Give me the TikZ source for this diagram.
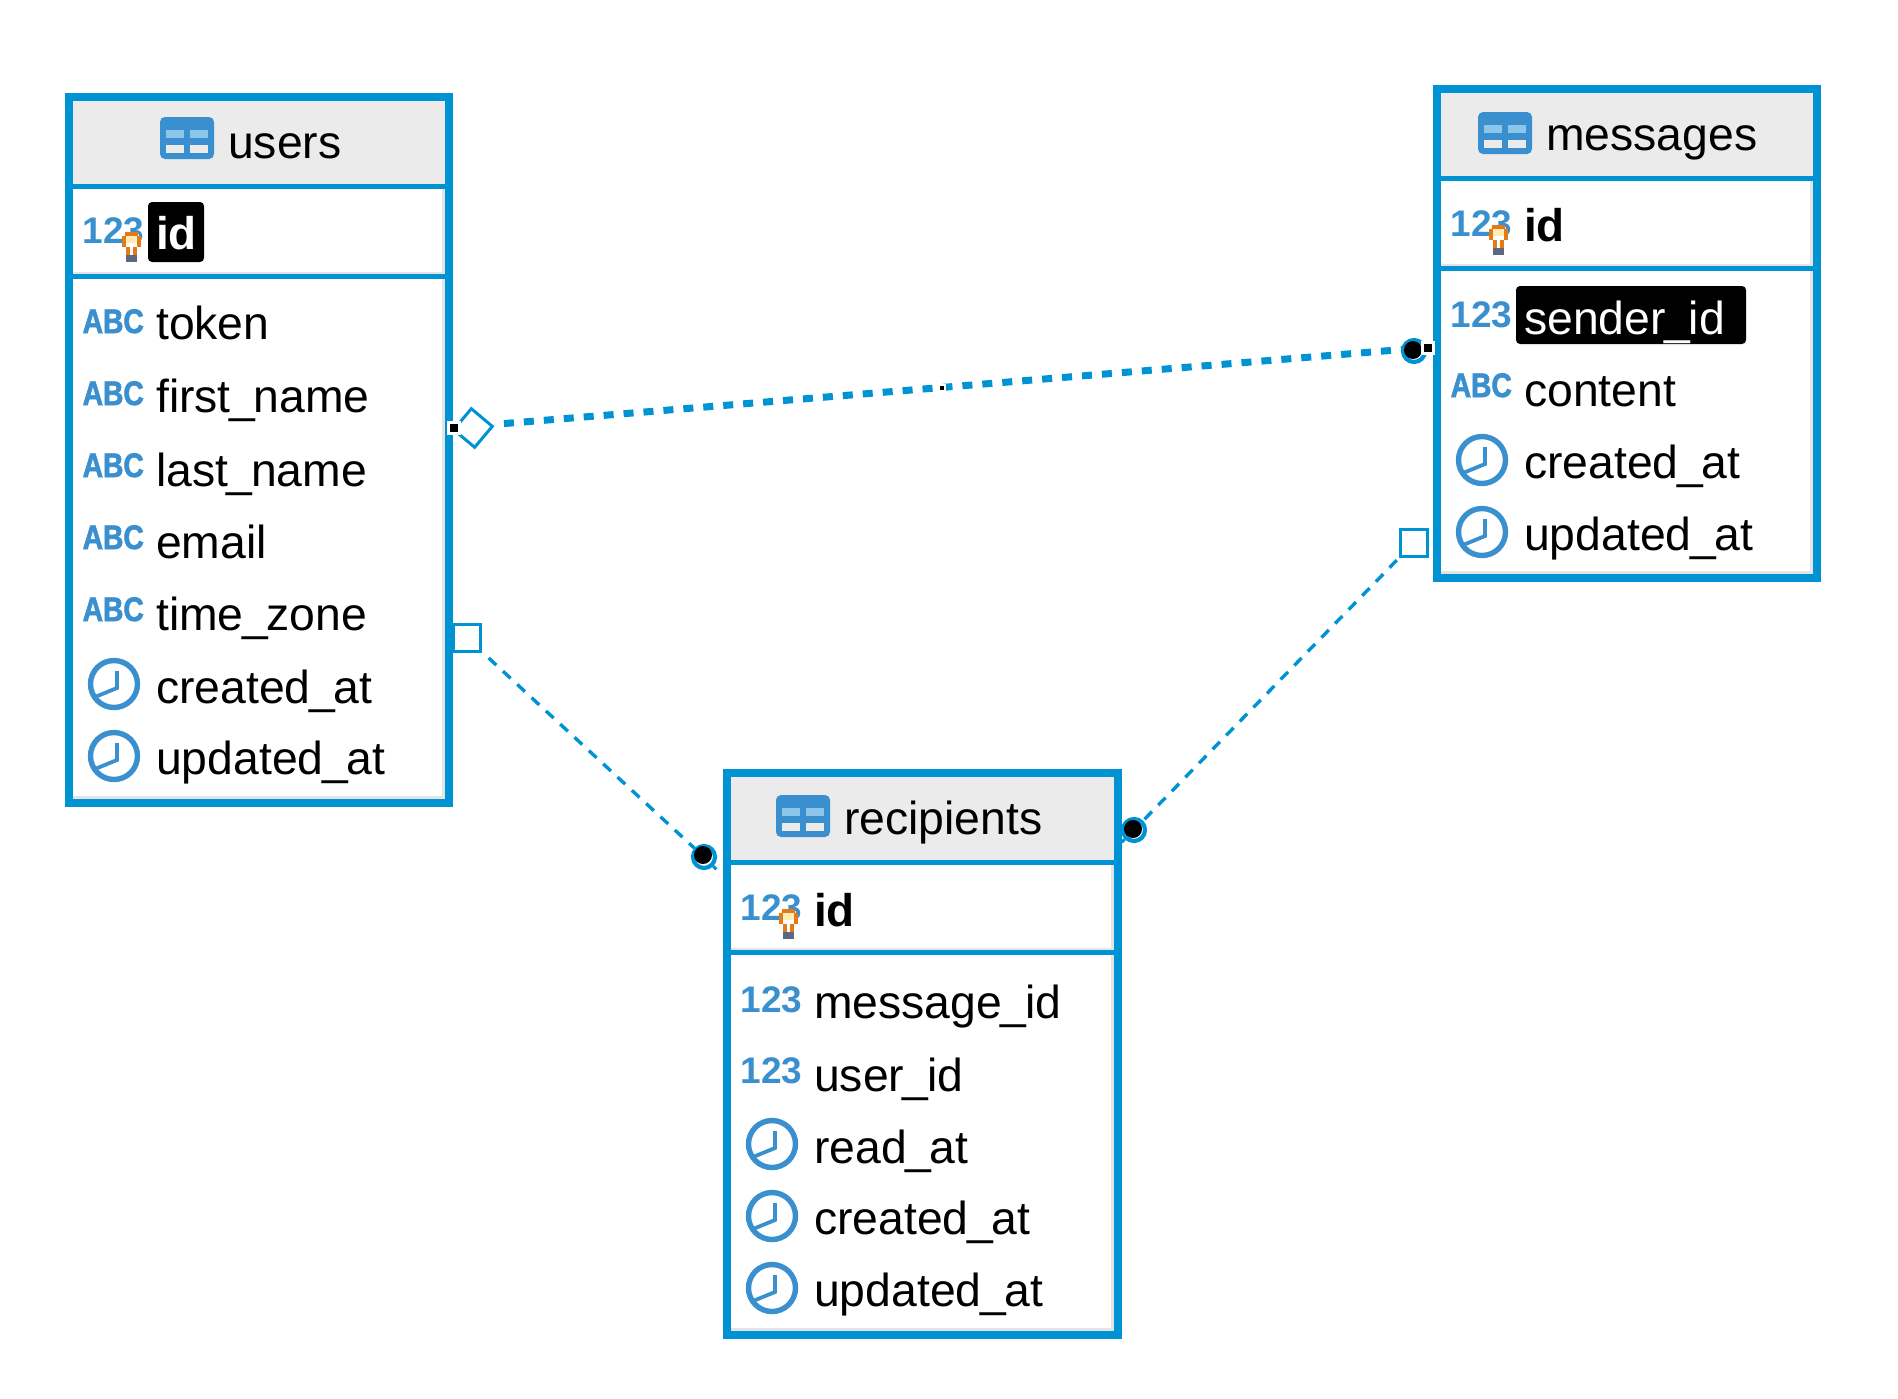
\documentclass[tikz,border=0pt]{standalone}
\usepackage{fontspec}
\usetikzlibrary{shapes.geometric}
\setmainfont{Liberation Sans}
\newfontfamily\abcfont[FakeStretch=0.83,FakeBold=2]{Liberation Sans Bold}
\definecolor{erdblue}{RGB}{0,147,211}
\definecolor{iconblue}{RGB}{58,144,207}
\definecolor{iconlight}{RGB}{140,198,235}
\definecolor{headgray}{RGB}{235,235,235}
\definecolor{edgegray}{RGB}{228,228,228}
\definecolor{keyorange}{RGB}{226,122,24}
\definecolor{keypale}{RGB}{255,236,178}
\definecolor{keygrey}{RGB}{90,104,128}
\tikzset{
  tablebox/.style={draw=erdblue,line width=8pt,fill=white,inner sep=0pt,rectangle},
  fieldlabel/.style={anchor=base west,inner sep=0pt,xshift=-1pt,yshift=-1pt,font=\fontsize{46.3}{50}\selectfont},
  keylabel/.style={fieldlabel,font=\fontsize{45.8}{50}\selectfont\bfseries},
  numicon/.style={anchor=base west,inner sep=0pt,xshift=-1.5pt,text=iconblue,font=\fontsize{37}{40}\selectfont\bfseries},
  abcicon/.style={anchor=base west,inner sep=0pt,xshift=-1.5pt,text=iconblue,font=\fontsize{34}{36}\abcfont},
  clockring/.style={draw=iconblue,line width=5.4pt},
  clockhand/.style={draw=iconblue,line width=3.8pt},
  endsquare/.style={rectangle,draw=erdblue,line width=3pt,fill=white,inner sep=0pt,minimum size=27pt},
  endring/.style={circle,draw=erdblue,line width=4.2pt,inner sep=0pt,minimum size=22pt},
  enddiamond/.style={diamond,aspect=1,draw=erdblue,line width=3pt,fill=white,inner sep=0pt,minimum width=40pt,minimum height=40pt,rotate=5},
  blackdot/.style={circle,fill=black,inner sep=0pt,minimum size=18pt},
  handle/.style={rectangle,fill=black,draw=white,line width=2.5pt,inner sep=0pt,minimum size=11pt},
  tinyhandle/.style={rectangle,fill=black,draw=white,line width=2pt,inner sep=0pt,minimum size=6pt},
  linkthick/.style={draw=erdblue,line width=7pt,dash pattern=on 10pt off 10pt},
  linkthin/.style={draw=erdblue,line width=3.4pt,dash pattern=on 10.5pt off 9pt},
}
\newcommand\us{\kern-1.4pt\_\kern-1.4pt}
\newcommand\erdTable[7]{%
  \pgfmathsetmacro\tw{#4-#2-8}\pgfmathsetmacro\th{#5-#3-8}%
  \pgfmathsetmacro\il{#2+8}\pgfmathsetmacro\ir{#4-8}\pgfmathsetmacro\it{#3+8}\pgfmathsetmacro\ib{#5-8}%
  \node[tablebox,minimum width=\tw pt,minimum height=\th pt] (#1) at ({(#2+#4)/2},{(#3+#5)/2}) {};
  \fill[headgray] (\il,\it) rectangle (\ir,#6);
  \fill[edgegray] (\ir-3,#6) rectangle (\ir,\ib);
  \fill[edgegray] (\il,\ib-3) rectangle (\ir,\ib);
  \fill[edgegray] (\il,#7-5) rectangle (\ir,#7);
  \draw[erdblue,line width=5pt] (\il,#6) -- (\ir,#6);
  \draw[erdblue,line width=5pt] (\il,#7) -- (\ir,#7);
}
\newcommand\tableIcon[3]{%
  \fill[iconblue,rounded corners=5pt] (#2,#3) rectangle ++(54,42);
  \fill[iconlight] (#2+5.7,#3+12.7) rectangle ++(18.3,8.3);
  \fill[iconlight] (#2+30,#3+12.7) rectangle ++(18.3,8.3);
  \fill[headgray] (#2+5.7,#3+28) rectangle ++(18.3,8.3);
  \fill[headgray] (#2+30,#3+28) rectangle ++(18.3,8.3);
}
\newcommand\clockIcon[2]{%
  \draw[clockring] (#1,#2) circle (23.5);
  \draw[clockhand,line join=miter] (#1+3,#2-13) -- (#1+3,#2+4) -- (#1-19,#2+13);
}
\newcommand\keyIcon[2]{%
  \fill[keypale] (#1+2,#2+2) rectangle ++(15,13);
  \fill[white] (#1+4,#2+11) rectangle ++(11,12);
  \fill[keyorange] (#1+3,#2) rectangle ++(13,4);
  \fill[keyorange] (#1,#2+4) rectangle ++(4,11);
  \fill[keyorange] (#1+15,#2+4) rectangle ++(4,11);
  \fill[keyorange] (#1+4,#2+15) rectangle ++(4,8);
  \fill[keyorange] (#1+11,#2+15) rectangle ++(4,8);
  \fill[keygrey] (#1+4,#2+23) rectangle ++(11,7);
}
\begin{document}
\begin{tikzpicture}[x=1pt,y=-1pt]
\useasboundingbox (0,0) rectangle (1898,1398);
% ---- users
\erdTable{users}{65}{93}{453}{807}{186.5}{276.5}
\tableIcon{users}{160}{117}
\node[fieldlabel] (usersTitle) at (229,157) {users};
\node[numicon] (usersIdNum) at (84,243) {123};
\keyIcon{122}{232}
\fill[black,rounded corners=4pt] (148,202) rectangle (204,262);
\node[keylabel,text=white] (usersId) at (157,248) {id};
\node[abcicon] (usersTokenT) at (84,333) {ABC};
\node[fieldlabel] (usersToken) at (157,338) {token};
\node[abcicon] (usersFirstT) at (84,405) {ABC};
\node[fieldlabel] (usersFirst) at (157,411) {first\us name};
\node[abcicon] (usersLastT) at (84,477) {ABC};
\node[fieldlabel] (usersLast) at (157,485) {last\us name};
\node[abcicon] (usersEmailT) at (84,549) {ABC};
\node[fieldlabel] (usersEmail) at (157,557) {email};
\node[abcicon] (usersZoneT) at (84,621) {ABC};
\node[fieldlabel] (usersZone) at (157,629) {time\us zone};
\clockIcon{114}{684}
\node[fieldlabel] (usersCreated) at (157,702) {created\us at};
\clockIcon{114}{756}
\node[fieldlabel] (usersUpdated) at (157,773) {updated\us at};
% ---- messages
\erdTable{messages}{1433}{85}{1821}{582}{178.5}{268.5}
\tableIcon{messages}{1478}{112}
\node[fieldlabel] (messagesTitle) at (1547,149) {messages};
\node[numicon] (messagesIdNum) at (1452,236) {123};
\keyIcon{1489}{225}
\node[keylabel] (messagesId) at (1525,240) {id};
\node[numicon] (messagesSenderT) at (1452,327) {123};
\fill[black,rounded corners=4pt] (1516,286) rectangle (1746,344);
\node[fieldlabel,text=white] (messagesSender) at (1525,333) {sender\us id};
\node[abcicon] (messagesContentT) at (1452,397) {ABC};
\node[fieldlabel] (messagesContent) at (1525,405) {content};
\clockIcon{1482}{460}
\node[fieldlabel] (messagesCreated) at (1525,477) {created\us at};
\clockIcon{1482}{532}
\node[fieldlabel] (messagesUpdated) at (1525,549) {updated\us at};
% ---- recipients
\erdTable{recipients}{723}{769}{1122}{1339}{862.5}{952.5}
\tableIcon{recipients}{776}{795}
\node[fieldlabel] (recipientsTitle) at (845,833) {recipients};
\node[numicon] (recipientsIdNum) at (742,920) {123};
\keyIcon{779}{909}
\node[keylabel] (recipientsId) at (815,925) {id};
\node[numicon] (recipientsMsgT) at (742,1012) {123};
\node[fieldlabel] (recipientsMsg) at (815,1017) {message\us id};
\node[numicon] (recipientsUserT) at (742,1083) {123};
\node[fieldlabel] (recipientsUser) at (815,1090) {user\us id};
\clockIcon{772}{1144}
\node[fieldlabel] (recipientsRead) at (815,1162) {read\us at};
\clockIcon{772}{1216}
\node[fieldlabel] (recipientsCreated) at (815,1233) {created\us at};
\clockIcon{772}{1288}
\node[fieldlabel] (recipientsUpdated) at (815,1305) {updated\us at};
% ---- connector ends
\node[enddiamond] (endUsersMsg) at (473,428) {};
\node[endring] (endMsgUsers) at (1414,351) {};
\node[endsquare] (endUsersRec) at (467,638) {};
\node[endring] (endRecUsers) at (704,857) {};
\node[endsquare] (endMsgRec) at (1413.5,543) {};
\node[endring] (endRecMsg) at (1134,830) {};
\coordinate (linkA) at (493,424.5);
\coordinate (linkB) at (1402,349.5);
% ---- connectors
\draw[linkthick,shorten <=11pt] (linkA) -- (linkB);
\draw[linkthin,shorten <=9pt] (endUsersRec) -- (endRecUsers);
\draw[linkthin,shorten <=3pt] (endMsgRec) -- (endRecMsg);
% ---- end marks
\node[blackdot] (dotMsgUsers) at (1413,350) {};
\node[blackdot] (dotRecUsers) at (703,855) {};
\node[blackdot] (dotRecMsg) at (1133,829) {};
\draw[erdblue,line width=3pt] (endRecUsers.south east) -- ++(3,3);
\draw[erdblue,line width=3pt] (endRecMsg.south west) -- ++(-3,3);
\node[handle] (handleUsers) at (454,428) {};
\node[handle] (handleMsg) at (1428,348) {};
\node[tinyhandle] (handleMid) at (942,388) {};
\end{tikzpicture}
\end{document}
